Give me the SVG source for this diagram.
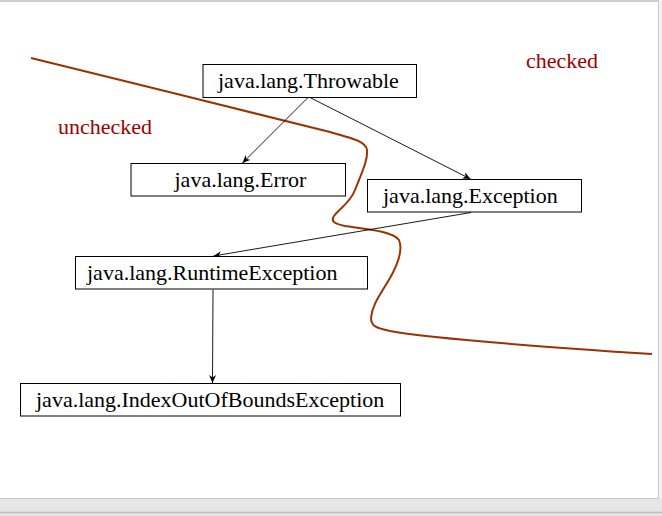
<svg xmlns="http://www.w3.org/2000/svg" width="662" height="516" viewBox="0 0 662 516">
<defs>
<style>
.box{fill:#fff;stroke:#000;stroke-width:1}
.lbl{font-family:"Liberation Serif","Times New Roman",serif;font-size:22px;fill:#000}
.red{font-family:"Liberation Serif","Times New Roman",serif;font-size:22px;fill:#a00000}
.edge{stroke:#000;stroke-width:0.9;fill:none;marker-end:url(#arr)}
</style>
<marker id="arr" markerUnits="userSpaceOnUse" markerWidth="9" markerHeight="7" refX="8" refY="3.5" orient="auto">
<path d="M0,0 L8,3.5 L0,7 L2.5,3.5 z" fill="#000"/>
</marker>
</defs>
<rect x="0" y="0" width="662" height="516" fill="#e6e6e6"/>
<rect x="659" y="0" width="3" height="498" fill="#f4f4f4"/>
<rect x="0" y="2" width="658" height="496" fill="#fff"/>
<line x1="0" y1="1" x2="659" y2="1" stroke="#cfcfcf" stroke-width="2"/>
<line x1="658.5" y1="0" x2="658.5" y2="499" stroke="#c8c8c8" stroke-width="1"/>
<line x1="0" y1="498.5" x2="659" y2="498.5" stroke="#c8c8c8" stroke-width="1"/>
<line x1="0" y1="512.5" x2="662" y2="512.5" stroke="#bdbdbd" stroke-width="1.5"/>

<path id="divider" d="M31,58 C120,80 250,112 330,132 C355,139 366,142 367,150 C368,160 362,172 355,190 C350,203 340,208 334,216 C330,222 336,224 345,226 C365,229 392,231 399,240 C403,250 398,264 390,278 C380,295 372,305 371,318 C371,326 376,328 390,331 C440,340 560,348 652,354" fill="none" stroke="#993300" stroke-width="2"/>

<text class="red" x="58" y="134">unchecked</text>
<text class="red" x="526" y="68">checked</text>

<g id="connectors">
<line class="edge" x1="308" y1="97.5" x2="242.5" y2="163"/>
<line class="edge" x1="310" y1="97.5" x2="470.5" y2="179"/>
<line class="edge" x1="471" y1="212.5" x2="213.5" y2="256"/>
<line class="edge" x1="213" y1="289.5" x2="212.5" y2="383"/>
</g>

<g id="throwable">
<rect class="box" x="203" y="64.5" width="213.5" height="33"/>
<text class="lbl" x="218" y="88">java.lang.Throwable</text>
</g>
<g id="error">
<rect class="box" x="131" y="163.5" width="214.5" height="32.5"/>
<text class="lbl" x="174.5" y="187">java.lang.Error</text>
</g>
<g id="exception">
<rect class="box" x="367.5" y="179.5" width="214" height="32.5"/>
<text class="lbl" x="383" y="203">java.lang.Exception</text>
</g>
<g id="runtime">
<rect class="box" x="75.5" y="256.5" width="292" height="32.5"/>
<text class="lbl" x="87" y="280">java.lang.RuntimeException</text>
</g>
<g id="ioob">
<rect class="box" x="20.5" y="383.5" width="380" height="32.5"/>
<text class="lbl" x="36" y="407">java.lang.IndexOutOfBoundsException</text>
</g>
</svg>
